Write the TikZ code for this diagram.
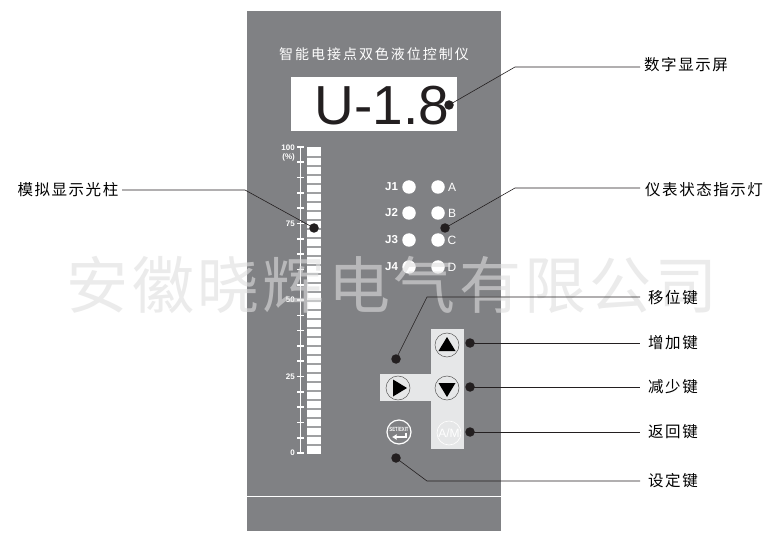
\documentclass[tikz,border=0pt]{standalone}
\usepackage{fontspec}
\usetikzlibrary{arrows.meta}
\setmainfont{Liberation Sans}
\newfontfamily\cjk{Noto Sans CJK SC}[LetterSpace=10]
\newfontfamily\cjktitle{Noto Sans CJK SC}[LetterSpace=14]
\newfontfamily\cjkmark{Noto Sans CJK SC}[LetterSpace=5.5]
\definecolor{panelgray}{HTML}{808184}
\definecolor{keypad}{HTML}{E6E7E8}
\definecolor{inkblack}{HTML}{231F20}
\definecolor{segline}{HTML}{9FA0A2}
\tikzset{
  leader/.style={draw=inkblack,line width=0.6pt},
  pin/.style={circle,fill=inkblack,inner sep=0pt,minimum size=9.5pt},
  calllabel/.style={anchor=west,inner sep=0pt,text=black,font=\fontsize{15.5}{17}\cjk},
  led/.style={circle,fill=white,inner sep=0pt,minimum size=13.5pt},
  ledtext/.style={text=white,inner sep=0pt,font=\fontsize{12}{13}\selectfont},
  scaletext/.style={text=white,inner sep=0pt,anchor=east,font=\bfseries\fontsize{8}{9}\selectfont},
  keyring/.style={circle,draw=black!65,line width=0.5pt,inner sep=0pt,minimum size=24pt},
  whitering/.style={circle,draw=white,line width=0.6pt,inner sep=0pt,minimum size=24pt},
}
\begin{document}
\begin{tikzpicture}[x=1pt,y=-1pt]
\useasboundingbox (0,0) rectangle (782,548);
\fill[white] (0,0) rectangle (782,548);
\fill[panelgray] (247,11) rectangle (501,531);
\draw[white,line width=1.3pt] (247,496.5) -- (501,496.5);
\node[inner sep=0pt,text=white,font=\fontsize{14}{16}\cjktitle] (title) at (374,54) {智能电接点双色液位控制仪};
\fill[white] (291,77) rectangle (457,131);
\node[inner sep=0pt,text=inkblack,font=\fontsize{55}{60}\selectfont,anchor=base] (display) at (382,125) {U-1.8};
% bar graph
\fill[white] (307,147) rectangle (321,454);
\foreach \i in {1,...,33} {\fill[segline] (307,147+9*\i) rectangle (321,148.6+9*\i);}
\draw[white,line width=1.8pt] (300.5,147) -- (300.5,454);
\foreach \i in {0,...,20} {\draw[white,line width=1.6pt] (297,147+15.3*\i) -- (304,147+15.3*\i);}
\node[scaletext] (s100) at (295,148) {100};
\node[scaletext] (spc) at (295,157) {(\%)};
\node[scaletext] (s75) at (295,224) {75};
\node[scaletext] (s50) at (295,300) {50};
\node[scaletext] (s25) at (295,377) {25};
\node[scaletext] (s0) at (295,453) {0};
% lamps
\foreach \n/\y/\t in {1/187/A,2/213/B,3/240/C,4/267/D}{
  \node[led] (j\n) at (409,\y) {};
  \node[led] (k\n) at (438,\y) {};
  \node[ledtext,font=\bfseries\fontsize{11.5}{13}\selectfont] (jt\n) at (391.5,\y) {J\n};
  \node[ledtext] (kt\n) at (452,\y) {\t};
}
% keypad
\fill[keypad] (431,329) rectangle (464,449);
\fill[keypad] (380,374) rectangle (431,401);
\node[keyring] (up) at (447,345) {};
\fill[black] (447,337) -- (455.5,351) -- (438.5,351) -- cycle;
\node[keyring] (down) at (447,388) {};
\fill[black] (447,397) -- (455.5,383) -- (438.5,383) -- cycle;
\node[keyring] (right) at (398,388) {};
\fill[black] (407,388) -- (393,379.5) -- (393,396.5) -- cycle;
\node[whitering,text=white,font=\fontsize{12}{13}\selectfont] (am) at (449,433) {A/M};
\node[whitering,line width=1.2pt] (set) at (399,432) {};
\node[inner sep=0pt,text=white,font=\bfseries\fontsize{6}{7}\selectfont] (settext) at (399,429) {\scalebox{0.72}[1]{SET/EXIT}};
\draw[white,line width=1.6pt,-{Latex[length=4.5pt,width=6pt]}] (406,433) -- (406,437) -- (392,437);
% watermark
\node[inner sep=0pt,text=black!13,text opacity=0.6,font=\fontsize{62}{66}\cjkmark] (mark) at (392,285) {安徽晓辉电气有限公司};
% callouts
\node[calllabel] (l1) at (644,65) {数字显示屏};
\node[calllabel] (l2) at (645,190) {仪表状态指示灯};
\node[calllabel,anchor=east] (l3) at (118.5,190) {模拟显示光柱};
\node[calllabel] (l4) at (648,298) {移位键};
\node[calllabel] (l5) at (648,343) {增加键};
\node[calllabel] (l6) at (648,387) {减少键};
\node[calllabel] (l7) at (648,432) {返回键};
\node[calllabel] (l8) at (648,481) {设定键};
\node[pin] (p1) at (449,105) {};
\node[pin] (p2) at (445,228) {};
\node[pin] (p3) at (314,228) {};
\node[pin] (p4) at (396,359) {};
\node[pin] (p5) at (470,343) {};
\node[pin] (p6) at (470,387) {};
\node[pin] (p7) at (470,432) {};
\node[pin] (p8) at (396,458) {};
\coordinate (c1) at (515,67);
\coordinate (c2) at (515,188);
\coordinate (c3) at (245,190);
\coordinate (c4) at (427,297);
\coordinate (c8) at (427,481);
\coordinate (e1) at (640,67);
\coordinate (e2) at (640,188);
\coordinate (e3) at (122,190);
\coordinate (e4) at (640,297);
\coordinate (e5) at (640,343);
\coordinate (e6) at (640,387);
\coordinate (e7) at (640,432);
\coordinate (e8) at (640,481);
\draw[leader] (p1.center) -- (c1) -- (e1);
\draw[leader] (p2.center) -- (c2) -- (e2);
\draw[leader] (p3.center) -- (c3) -- (e3);
\draw[leader] (p4.center) -- (c4) -- (e4);
\draw[leader] (p5.center) -- (e5);
\draw[leader] (p6.center) -- (e6);
\draw[leader] (p7.center) -- (e7);
\draw[leader] (p8.center) -- (c8) -- (e8);
\end{tikzpicture}
\end{document}
